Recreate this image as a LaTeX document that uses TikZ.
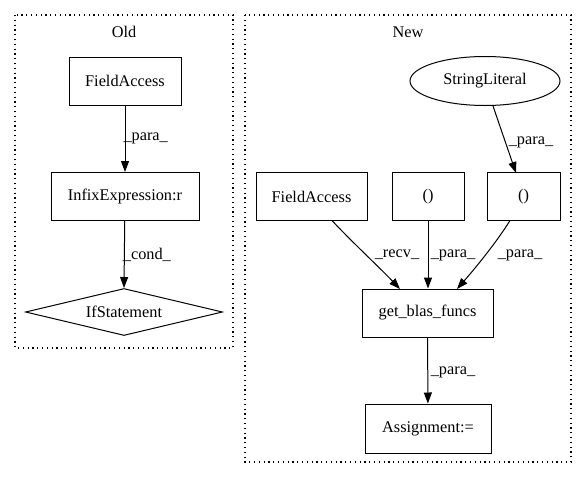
\documentclass[tikz,border=0pt]{standalone}
\usepackage{fontspec}
\setmainfont{Liberation Serif}
\usetikzlibrary{arrows.meta,shapes.geometric}
\begin{document}
\begin{tikzpicture}[x=1pt,y=-1pt,
  every node/.style={font=\fontsize{16.3}{18}\selectfont, inner sep=0pt},
  box/.style={draw, line width=1pt, rectangle, minimum height=48pt},
  cluster/.style={draw, line width=1.2pt, dash pattern=on 1.2pt off 3.6pt},
  edge/.style={line width=1pt, -{Triangle[length=11pt,width=8pt]}}]
\useasboundingbox (0,0) rectangle (587,480);
% clusters
\draw[cluster] (15,15) rectangle (233,348);
\node (oldt) at (124,32) {Old};
\draw[cluster] (245,15) rectangle (571,462);
\node (newt) at (408,32) {New};
% Old nodes
\node[box, minimum width=112pt] (fa1) at (125,81) {FieldAccess};
\node[box, minimum width=148pt] (inf) at (125,196.5) {InfixExpression:r};
\node[draw, line width=1pt, diamond, aspect=4.2, minimum width=197pt, minimum height=47pt] (ifs) at (124,312) {IfStatement};
\draw[edge] (fa1) -- node[right, pos=0.5, xshift=-2pt] {\_para\_} (inf);
\draw[edge] (inf) -- node[right, pos=0.5, xshift=-2pt] {\_cond\_} (ifs.north);
% New nodes
\node[draw, line width=1pt, ellipse, minimum width=150pt, minimum height=49pt] (sl) at (485,81) {StringLiteral};
\node[box, minimum width=111pt] (fa2) at (311.5,196.5) {FieldAccess};
\node[box, minimum width=72pt] (p1) at (428,196.5) {()};
\node[box, minimum width=73pt] (p2) at (523.5,196.5) {()};
\node[box, minimum width=131pt] (gbf) at (427.5,313) {get\_blas\_funcs};
\node[box, minimum width=126pt, minimum height=49pt] (asg) at (428,428.5) {Assignment:=};
\coordinate (slb) at (493,106);
\coordinate (p2t) at (516,173);
\draw[edge] (slb) -- (p2t);
\node (l1) at (531,142) {\_para\_};
\coordinate (fa2b) at (332,220.5);
\coordinate (g1) at (400,289);
\draw[edge] (fa2b) .. controls (350,240) and (380,268) .. (g1);
\node (l2) at (397,255) {\_recv\_};
\draw[edge] (p1) -- (p1 |- gbf.north);
\node (l3) at (453,255) {\_para\_};
\coordinate (p2b) at (510,220.5);
\coordinate (g3) at (457,289);
\draw[edge] (p2b) .. controls (498,240) and (478,265) .. (g3);
\node (l4) at (520,255) {\_para\_};
\draw[edge] (gbf) -- (asg);
\node (l5) at (453,372) {\_para\_};
\end{tikzpicture}
\end{document}
